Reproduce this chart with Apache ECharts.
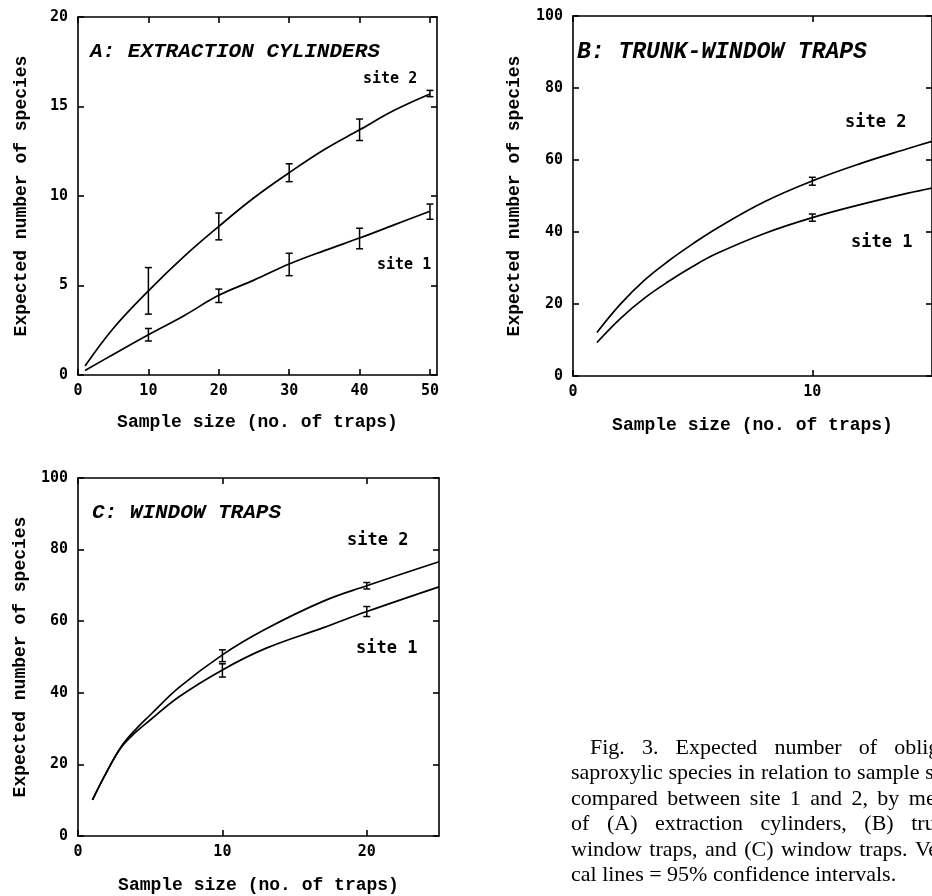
<!DOCTYPE html>
<html>
<head>
<meta charset="utf-8">
<script src="https://cdn.jsdelivr.net/npm/echarts@6/dist/echarts.min.js"></script>
<style>
  html, body { margin: 0; background: #fff; }
  #chart { width: 932px; height: 896px; }
</style>
</head>
<body>
<div id="chart"></div>
<script>
// A: extraction cylinders
const xA = [1, 5, 10, 15, 20, 25, 30, 35, 40, 45, 50];
const aSite2 = [0.5, 2.6, 4.7, 6.6, 8.3, 9.9, 11.3, 12.6, 13.7, 14.8, 15.7];
const aSite1 = [0.25, 1.15, 2.25, 3.3, 4.45, 5.3, 6.2, 6.95, 7.65, 8.4, 9.15];
const ciXA = [10, 20, 30, 40, 50];
const aSite2Lo = [3.4, 7.55, 10.8, 13.1, 15.55];
const aSite2Hi = [6.0, 9.05, 11.8, 14.3, 15.9];
const aSite1Lo = [1.9, 4.05, 5.55, 7.05, 8.7];
const aSite1Hi = [2.6, 4.8, 6.8, 8.2, 9.55];

// B: trunk-window traps
const xB = [1, 2, 3, 4, 5, 6, 8, 10, 12, 14, 15];
const bSite2 = [12.1, 20.1, 26.7, 32.0, 36.7, 41.0, 48.4, 54.2, 59.0, 63.2, 65.2];
const bSite1 = [9.3, 16.1, 21.7, 26.3, 30.4, 34.0, 39.6, 44.0, 47.6, 50.8, 52.2];
const ciXB = [10];
const bSite2Lo = [53.0], bSite2Hi = [55.2];
const bSite1Lo = [43.0], bSite1Hi = [45.0];

// C: window traps
const xC = [1, 2, 3, 4, 5, 7, 10, 13, 17, 20, 25];
const cSite2 = [10.1, 18.0, 25.0, 29.8, 33.8, 41.5, 50.6, 57.8, 65.6, 69.9, 76.6];
const cSite1 = [10.1, 18.0, 24.8, 29.0, 32.4, 38.9, 46.4, 52.4, 58.2, 62.7, 69.6];
const ciXC = [10, 20];
const cSite2Lo = [48.7, 69.0], cSite2Hi = [52.0, 70.8];
const cSite1Lo = [44.4, 61.3], cSite1Hi = [48.1, 64.1];

// axis ticks
const xTicksA = [0, 10, 20, 30, 40, 50];
const xTicksB = [0, 10];
const xTicksC = [0, 10, 20];

const xName = 'Sample size (no. of traps)';
const yName = 'Expected number of species';

const captionLines = [
  'Fig. 3. Expected number of obligate',
  'saproxylic species in relation to sample size,',
  'compared between site 1 and 2, by means',
  'of (A) extraction cylinders, (B) trunk-',
  'window traps, and (C) window traps. Verti-',
  'cal lines = 95% confidence intervals.'
];

const INK = '#000';
const TICK_FONT = { fontFamily: 'DejaVu Sans Mono', fontWeight: 'bold', fontSize: 15, color: INK };
const NAME_FONT = { fontFamily: 'Liberation Mono', fontWeight: 'bold', fontSize: 18, color: INK };
const lineSt = { color: INK, width: 1.6 };

const zip = (xs, ys) => xs.map((x, i) => [x, ys[i]]);
const zip3 = (xs, lo, hi) => xs.map((x, i) => [x, lo[i], hi[i]]);

function xAxisPair(grid, max, ticks, gap) {
  const base = { gridIndex: grid, type: 'value', min: 0, max, interval: 10, splitLine: { show: false },
    axisLine: { show: true, onZero: false, lineStyle: lineSt } };
  return [
    { ...base, position: 'bottom',
      axisTick: { inside: true, length: 6, customValues: ticks, lineStyle: lineSt },
      axisLabel: { ...TICK_FONT, margin: 9, customValues: ticks },
      name: xName, nameLocation: 'middle', nameGap: gap, nameTextStyle: NAME_FONT },
    { ...base, position: 'top',
      axisTick: { inside: true, length: 6, customValues: ticks, lineStyle: lineSt },
      axisLabel: { show: false } }
  ];
}

function yAxisPair(grid, max, step, gap) {
  const base = { gridIndex: grid, type: 'value', min: 0, max, interval: step, splitLine: { show: false },
    axisLine: { show: true, onZero: false, lineStyle: lineSt },
    axisTick: { inside: true, length: 6, lineStyle: lineSt } };
  return [
    { ...base, position: 'left', axisLabel: { ...TICK_FONT, margin: 10 },
      name: yName, nameLocation: 'middle', nameGap: gap, nameTextStyle: NAME_FONT },
    { ...base, position: 'right', axisLabel: { show: false } }
  ];
}

function curve(grid, data) {
  return { type: 'line', xAxisIndex: grid * 2, yAxisIndex: grid * 2, data, smooth: 0.4,
    symbol: 'none', lineStyle: { color: INK, width: 1.7 }, silent: true, z: 3 };
}

function ciItem(params, api) {
  const x = api.value(0);
  const lo = api.coord([x, api.value(1)]);
  const hi = api.coord([x, api.value(2)]);
  const w = 3.5;
  const style = { stroke: INK, lineWidth: 1.5 };
  return { type: 'group', children: [
    { type: 'line', shape: { x1: lo[0], y1: lo[1], x2: hi[0], y2: hi[1] }, style },
    { type: 'line', shape: { x1: lo[0] - w, y1: lo[1], x2: lo[0] + w, y2: lo[1] }, style },
    { type: 'line', shape: { x1: hi[0] - w, y1: hi[1], x2: hi[0] + w, y2: hi[1] }, style }
  ] };
}

function ci(grid, data) {
  return { type: 'custom', xAxisIndex: grid * 2, yAxisIndex: grid * 2, data, renderItem: ciItem,
    encode: { x: 0, y: [1, 2] }, silent: true, z: 4 };
}

function label(text, x, y, size, extra) {
  return { type: 'text', x, y, silent: true,
    style: Object.assign({ text, fill: INK, fontFamily: 'DejaVu Sans Mono', fontWeight: 'bold',
      fontSize: size, textVerticalAlign: 'middle' }, extra || {}) };
}

function panelTitle(text, x, y, size) {
  return label(text, x, y, size, { fontFamily: 'Liberation Mono', fontWeight: 'bold', fontStyle: 'italic' });
}

// caption, justified like the printed column
function captionGraphics() {
  const size = 22, fam = 'Liberation Serif';
  const ctx = document.createElement('canvas').getContext('2d');
  ctx.font = size + 'px "' + fam + '"';
  const left = 571, right = 965, top = 748, lead = 25.5, indent = 19;
  const out = [];
  captionLines.forEach((line, i) => {
    const words = line.split(' ');
    const x0 = left + (i === 0 ? indent : 0);
    const widths = words.map(w => ctx.measureText(w).width);
    const total = widths.reduce((s, v) => s + v, 0);
    const last = i === captionLines.length - 1;
    const gap = last ? ctx.measureText(' ').width : (right - x0 - total) / (words.length - 1);
    let x = x0;
    words.forEach((w, j) => {
      out.push({ type: 'text', x, y: top + i * lead, silent: true,
        style: { text: w, fill: INK, fontFamily: fam, fontSize: size, textVerticalAlign: 'middle' } });
      x += widths[j] + gap;
    });
  });
  return out;
}

const chart = echarts.init(document.getElementById('chart'), null, { renderer: 'canvas' });
chart.setOption({
  animation: false,
  backgroundColor: '#fff',
  grid: [
    { left: 78, top: 17, width: 359, height: 358 },
    { left: 573, top: 16, width: 365, height: 360 },
    { left: 78, top: 478, width: 361, height: 358 }
  ],
  xAxis: [
    ...xAxisPair(0, 51, xTicksA, 38),
    ...xAxisPair(1, 15, xTicksB, 40),
    ...xAxisPair(2, 25, xTicksC, 40)
  ],
  yAxis: [
    ...yAxisPair(0, 20, 5, 48),
    ...yAxisPair(1, 100, 20, 50),
    ...yAxisPair(2, 100, 20, 49)
  ],
  series: [
    curve(0, zip(xA, aSite2)), curve(0, zip(xA, aSite1)),
    ci(0, zip3(ciXA, aSite2Lo, aSite2Hi)), ci(0, zip3(ciXA, aSite1Lo, aSite1Hi)),
    curve(1, zip(xB, bSite2)), curve(1, zip(xB, bSite1)),
    ci(1, zip3(ciXB, bSite2Lo, bSite2Hi)), ci(1, zip3(ciXB, bSite1Lo, bSite1Hi)),
    curve(2, zip(xC, cSite2)), curve(2, zip(xC, cSite1)),
    ci(2, zip3(ciXC, cSite2Lo, cSite2Hi)), ci(2, zip3(ciXC, cSite1Lo, cSite1Hi))
  ],
  graphic: [
    panelTitle('A: EXTRACTION CYLINDERS', 90, 52, 21),
    label('site 2', 363, 79, 15),
    label('site 1', 377, 265, 15),
    panelTitle('B: TRUNK-WINDOW TRAPS', 577, 52, 23),
    label('site 2', 845, 123, 17),
    label('site 1', 851, 243, 17),
    panelTitle('C: WINDOW TRAPS', 92, 513, 21),
    label('site 2', 347, 541, 17),
    label('site 1', 356, 649, 17),
    ...captionGraphics()
  ]
});
</script>
</body>
</html>
